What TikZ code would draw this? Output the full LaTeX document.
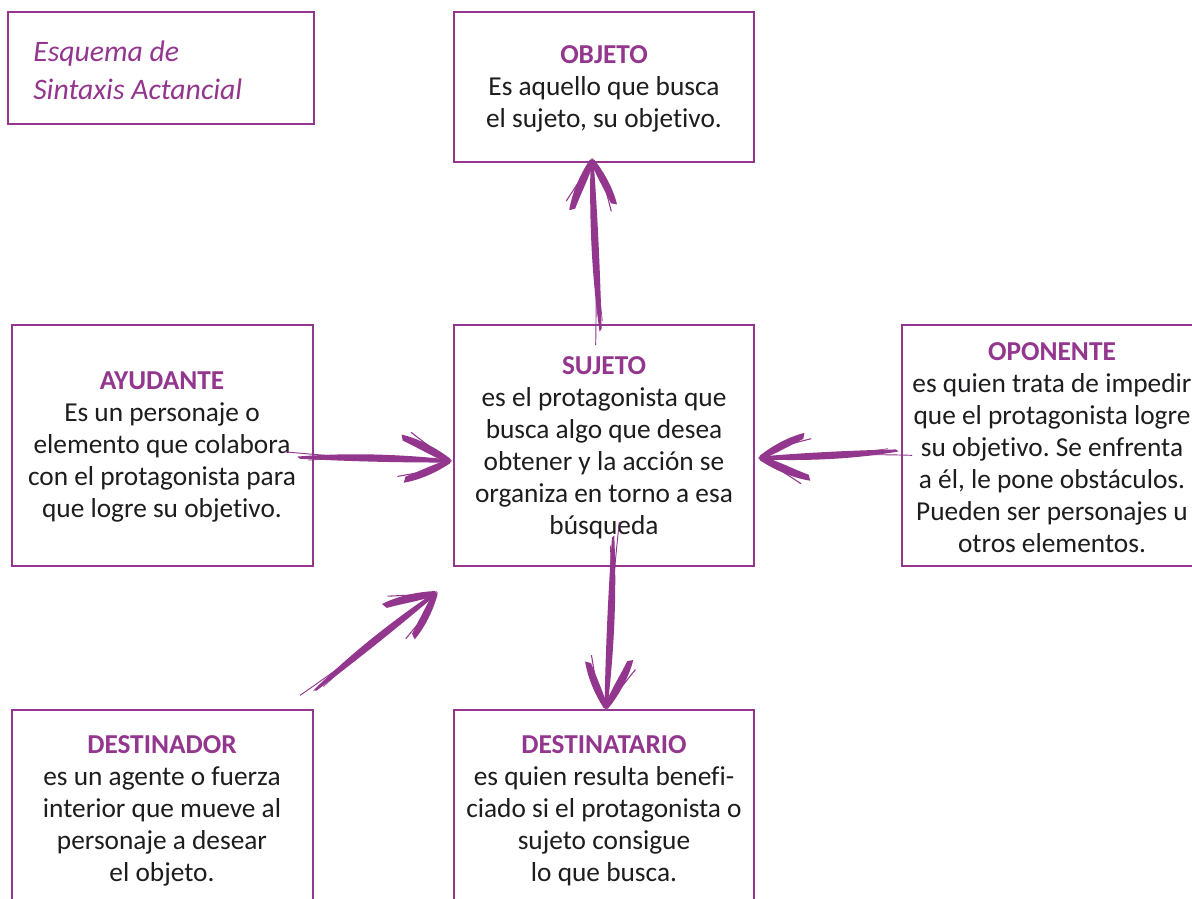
\documentclass[tikz,border=0pt]{standalone}
\usepackage{fontspec}
\setmainfont{Carlito}[Ligatures={NoCommon}]
\usetikzlibrary{fit}
\definecolor{pc}{RGB}{147,54,142}
\definecolor{textc}{RGB}{30,28,30}
\tikzset{
  box/.style={draw=pc, line width=0.8pt, inner sep=0pt},
  titlebox/.style={draw=pc, line width=1.9pt, inner sep=0pt},
  txt/.style={align=center, font=\fontsize{20.5}{24}\selectfont, text=textc, inner sep=0pt},
}
\frenchspacing
\newcommand\hd[1]{\textbf{\color{pc}#1}}
\newcommand\skarrow[2]{%
  \pgfpointdiff{\pgfpointanchor{#1}{center}}{\pgfpointanchor{#2}{center}}%
  \pgfgetlastxy\skdx\skdy
  \pgfmathsetmacro\skang{atan2(\skdy,\skdx)}%
  \pgfmathsetmacro\sklen{veclen(\skdx,\skdy)}%
  \begin{scope}[shift={(#2)}, rotate=\skang, x=1pt, y=1pt]
    % thick tapered shaft
    \fill[pc] (-\sklen+10,-0.8) .. controls (-0.6*\sklen,3.8) and (-0.3*\sklen,3.6) .. (-2,1.2)
      -- (-2,-1.2) .. controls (-0.3*\sklen,-2.6) and (-0.6*\sklen,-3.0) .. (-\sklen+12,-2.4) -- cycle;
    % thin strands
    \draw[pc, line width=0.7pt] (-\sklen,2.5) .. controls (-0.5*\sklen,-1.5) and (-0.2*\sklen,0.8) .. (0,0);
    \draw[pc, line width=0.5pt] (-\sklen+18,-3.2) .. controls (-0.5*\sklen,0.8) and (-0.2*\sklen,-0.8) .. (-1,-0.3);
    % head arms
    \fill[pc] (0,1.8) .. controls (-10,9) and (-24,16) .. (-37,18.5)
      -- (-36,14) .. controls (-24,9) and (-14,3) .. (0,-1.8) -- cycle;
    \fill[pc] (0,-1.8) .. controls (-10,-9) and (-22,-15) .. (-34,-17.5)
      -- (-33,-13) .. controls (-22,-8) and (-12,-3) .. (0,1.8) -- cycle;
    \draw[pc, line width=0.8pt] (1,0.3) .. controls (-14,9) .. (-30,20.5);
    \draw[pc, line width=0.8pt] (1,-0.3) .. controls (-16,-8) .. (-39,-13);
  \end{scope}%
}
\begin{document}
\begin{tikzpicture}[x=0.75pt, y=-0.75pt]
\useasboundingbox (0,0) rectangle (1192,899);
\clip (0,0) rectangle (1192,899);
\fill[white] (0,0) rectangle (1192,899);

% boxes
\node[titlebox, fit={(8,12) (314,124)}] (titleb) {};
\node[box, fit={(454,12) (754,162)}] (objb) {};
\node[box, fit={(454,325) (754,566)}] (sujb) {};
\node[box, fit={(12,325) (313,566)}] (ayub) {};
\node[box, fit={(902,325) (1202,566)}] (opob) {};
\node[box, fit={(12,710) (313,915)}] (desb) {};
\node[box, fit={(454,710) (754,915)}] (datb) {};

% texts
\node[anchor=west, align=left, inner sep=0pt, text=pc, font=\fontsize{22.3}{28.5}\selectfont\itshape] (titlet) at (33,70) {Esquema de\\Sintaxis Actancial};
\node[txt] (objt) at (604,89) {\hd{OBJETO}\\Es aquello que busca\\el sujeto, su objetivo.};
\node[txt] (sujt) at (604,448) {\hd{SUJETO}\\es el protagonista que\\busca algo que desea\\obtener y la acción se\\organiza en torno a esa\\búsqueda};
\node[txt] (ayut) at (162,447) {\hd{AYUDANTE}\\Es un personaje o\\elemento que colabora\\con el protagonista para\\que logre su objetivo.};
\node[txt] (opot) at (1052,448) {\hd{OPONENTE}\\es quien trata de impedir\\que el protagonista logre\\su objetivo. Se enfrenta\\a él, le pone obstáculos.\\Pueden ser personajes u\\otros elementos.};
\node[txt] (dest) at (162,811) {\hd{DESTINADOR}\\es un agente o fuerza\\interior que mueve al\\personaje a desear\\el objeto.};
\node[txt] (datt) at (604,811) {\hd{DESTINATARIO}\\es quien resulta benefi-\\ciado si el protagonista o\\sujeto consigue\\lo que busca.};

% arrow end points
\coordinate (upA) at (599,345);
\coordinate (upB) at (592,160);
\coordinate (rA) at (284,455);
\coordinate (rB) at (450,461);
\coordinate (lA) at (912,452);
\coordinate (lB) at (760,458);
\coordinate (dA) at (616,522);
\coordinate (dB) at (606,708);
\coordinate (gA) at (302,698);
\coordinate (gB) at (436,593);

\skarrow{upA}{upB}
\skarrow{rA}{rB}
\skarrow{lA}{lB}
\skarrow{dA}{dB}
\skarrow{gA}{gB}
\end{tikzpicture}
\end{document}
